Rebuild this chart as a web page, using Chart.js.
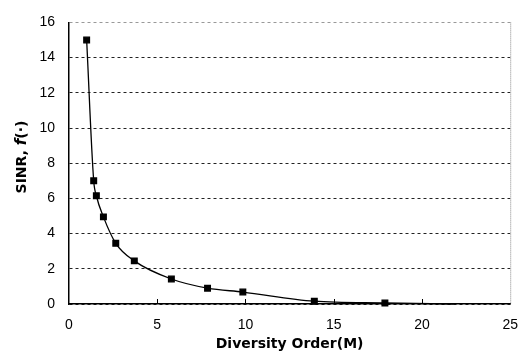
<!DOCTYPE html>
<html>
<head>
<meta charset="utf-8">
<script src="https://cdn.jsdelivr.net/npm/chart.js@4"></script>
<style>
  html, body { margin: 0; padding: 0; background: #fff; }
  #wrap { width: 531px; height: 355px; position: relative; }
</style>
</head>
<body>
<div id="wrap"><canvas id="sinrChart"></canvas></div>
<script>
// diversity order M and the SINR
const orders = [1.0, 1.4, 1.55, 1.95, 2.65, 3.7, 5.8, 7.85, 9.85, 13.9, 17.9, 21.8];
const sinr = [15.0, 7.0, 6.15, 4.95, 3.45, 2.45, 1.42, 0.9, 0.68, 0.16, 0.06, 0.0];
const markers = [4, 4, 4, 4, 4, 4, 4, 4, 4, 4, 4, 0];
const xTicks = [0, 5, 10, 15, 20, 25];
const yTicks = [0, 2, 4, 6, 8, 10, 12, 14, 16];

const tickFont = { family: 'Liberation Sans, Arial, sans-serif', size: 14 };
const titleFamily = 'DejaVu Sans, sans-serif';

// frame bits the scales don't draw: dotted right edge, inward x ticks, y title with italic f
const framePlugin = {
  id: 'frame',
  afterDraw(chart) {
    const { ctx, chartArea: a, scales } = chart;
    ctx.save();
    ctx.strokeStyle = '#888';
    ctx.lineWidth = 1;
    ctx.setLineDash([1, 1]);
    ctx.beginPath();
    ctx.moveTo(a.right + 0.5, a.top);
    ctx.lineTo(a.right + 0.5, a.bottom);
    ctx.stroke();
    ctx.setLineDash([]);

    ctx.strokeStyle = '#000';
    ctx.beginPath();
    xTicks.slice(1, -1).forEach((v) => {
      const px = Math.round(scales.x.getPixelForValue(v)) + 0.5;
      ctx.moveTo(px, a.bottom);
      ctx.lineTo(px, a.bottom - 5);
    });
    ctx.stroke();

    // y title
    const parts = [
      { t: 'SINR, ', f: `bold 14px ${titleFamily}` },
      { t: 'f', f: `italic bold 15px ${titleFamily}` },
      { t: '(·)', f: `bold 14px ${titleFamily}` },
    ];
    let total = 0;
    parts.forEach((p) => { ctx.font = p.f; p.w = ctx.measureText(p.t).width; total += p.w; });
    ctx.translate(22, 157);
    ctx.rotate(-Math.PI / 2);
    ctx.fillStyle = '#000';
    ctx.textBaseline = 'middle';
    let x = -total / 2;
    parts.forEach((p) => { ctx.font = p.f; ctx.fillText(p.t, x, 0); x += p.w; });
    ctx.restore();
  },
};

new Chart(document.getElementById('sinrChart'), {
  type: 'line',
  data: {
    datasets: [{
      data: orders.map((m, i) => ({ x: m, y: sinr[i] })),
      borderColor: '#000',
      backgroundColor: '#000',
      borderWidth: 1.3,
      cubicInterpolationMode: 'monotone',
      pointStyle: 'rect',
      pointRadius: markers,
      pointHoverRadius: markers,
      clip: false,
    }],
  },
  plugins: [framePlugin],
  options: {
    responsive: true,
    maintainAspectRatio: false,
    animation: false,
    layout: { padding: { top: 10, right: 18, left: 0, bottom: 0 } },
    plugins: { legend: { display: false }, tooltip: { enabled: false } },
    scales: {
      x: {
        type: 'linear',
        min: 0,
        max: 25,
        afterBuildTicks: (s) => { s.ticks = xTicks.map((v) => ({ value: v })); },
        afterFit: (s) => { s.height = 51; },
        grid: { drawOnChartArea: false, drawTicks: false },
        border: { color: '#000', width: 1.5 },
        ticks: { font: tickFont, color: '#000', padding: 13, maxRotation: 0 },
        title: {
          display: true,
          text: 'Diversity Order(M)',
          font: { family: titleFamily, size: 14, weight: 'bold' },
          color: '#000',
          padding: { top: 0, bottom: 2 },
        },
      },
      y: {
        min: 0,
        max: 16,
        afterBuildTicks: (s) => { s.ticks = yTicks.map((v) => ({ value: v })); },
        afterFit: (s) => { s.width = 69; },
        grid: {
          color: (c) => (c.tick && c.tick.value === 16 ? '#999' : '#222'),
          lineWidth: 1,
          drawTicks: false,
        },
        // in v4 the grid line dash comes from border.dash
        border: { color: '#000', width: 1.5, dash: [3, 3] },
        ticks: { font: tickFont, color: '#000', padding: 14 },
      },
    },
  },
});
</script>
</body>
</html>
